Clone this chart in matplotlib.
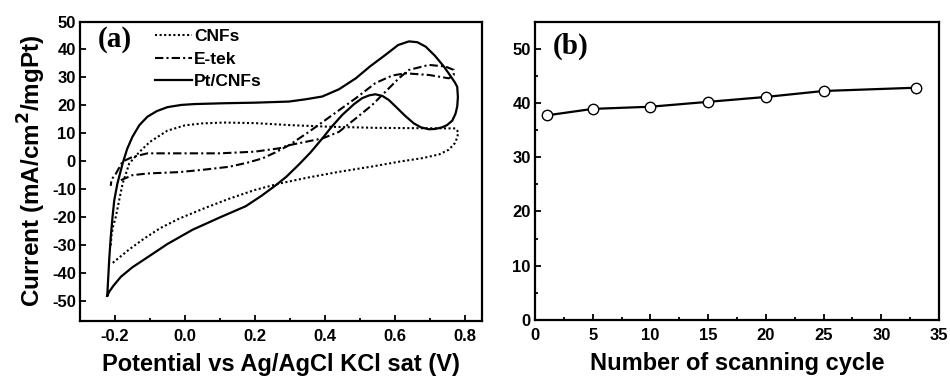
import matplotlib
matplotlib.use("Agg")
import matplotlib.pyplot as plt
from matplotlib.ticker import MultipleLocator

plt.rcParams['font.family'] = ['Liberation Sans', 'DejaVu Sans']
plt.rcParams['font.weight'] = 'bold'
plt.rcParams['mathtext.default'] = 'bf'

# (a) cyclic voltammograms, potential (V) vs current (mA/cm2/mgPt)
pt_v = [-0.222, -0.219, -0.216, -0.212, -0.207, -0.202, -0.193, -0.178, -0.165, -0.15,
        -0.13, -0.107, -0.08, -0.05, -0.01, 0.027, 0.112, 0.2, 0.298, 0.345,
        0.393, 0.441, 0.489, 0.53, 0.574, 0.61, 0.641, 0.665, 0.689, 0.715,
        0.741, 0.76, 0.772, 0.779, 0.781, 0.779, 0.774, 0.765, 0.75, 0.736,
        0.715, 0.698, 0.675, 0.655, 0.63, 0.603, 0.583, 0.565, 0.545, 0.527,
        0.507, 0.484, 0.45, 0.42, 0.393, 0.36, 0.327, 0.29, 0.26, 0.22,
        0.174, 0.1, 0.022, -0.05, -0.116, -0.15, -0.183, -0.205, -0.216, -0.222]
pt_i = [-48.0, -41.0, -34.2, -27.0, -19.9, -13.9, -7.9, -0.7, 4.5, 8.8,
        13.0, 16.0, 18.0, 19.4, 20.2, 20.5, 20.8, 21.0, 21.4, 22.2,
        23.2, 25.8, 29.7, 34.0, 38.1, 41.6, 42.9, 42.6, 41.0, 37.8,
        33.9, 30.5, 28.3, 26.7, 23.0, 19.6, 17.0, 14.6, 13.0, 12.2,
        11.6, 11.5, 12.2, 13.6, 16.3, 19.6, 22.0, 23.4, 24.0, 23.6,
        22.6, 20.5, 16.6, 12.4, 8.2, 3.3, -1.0, -5.5, -8.5, -12.2,
        -16.0, -20.0, -24.4, -29.5, -35.0, -37.8, -41.2, -44.5, -46.5, -48.0]

cnf_v = [-0.212, -0.21, -0.205, -0.198, -0.188, -0.178, -0.159, -0.13, -0.1, -0.05,
         0.0, 0.05, 0.112, 0.2, 0.298, 0.413, 0.55, 0.65, 0.774, 0.782,
         0.779, 0.772, 0.755, 0.727, 0.68, 0.612, 0.536, 0.441, 0.35, 0.27,
         0.2, 0.127, 0.06, -0.016, -0.07, -0.116, -0.16, -0.207]
cnf_i = [-30.0, -26.5, -23.0, -20.0, -13.9, -7.9, -0.7, 3.4, 7.0, 11.0,
         12.9, 13.6, 13.9, 13.7, 13.0, 12.4, 12.0, 11.9, 11.8, 10.5,
         8.5, 6.5, 4.2, 2.5, 1.2, -0.1, -1.8, -3.7, -5.8, -7.9,
         -10.2, -13.3, -16.5, -20.4, -23.8, -27.5, -31.5, -36.3]

et_v = [-0.183, -0.15, -0.107, -0.016, 0.05, 0.127, 0.18, 0.222, 0.26, 0.298,
        0.355, 0.422, 0.489, 0.545, 0.593, 0.631, 0.698, 0.755, 0.769, 0.769,
        0.746, 0.698, 0.641, 0.612, 0.584, 0.536, 0.489, 0.441, 0.393, 0.345,
        0.298, 0.27, 0.2, 0.1, -0.016, -0.107, -0.15, -0.178, -0.197, -0.21, -0.212]
et_i = [-6.7, -4.9, -4.3, -3.8, -3.0, -1.9, -0.4, 1.1, 3.3, 5.8,
        10.6, 16.6, 22.6, 28.0, 30.7, 31.5, 30.9, 29.7, 30.9, 32.7,
        33.9, 34.5, 32.7, 29.7, 26.2, 20.2, 15.4, 10.6, 8.2, 7.0,
        5.8, 4.7, 3.5, 2.9, 2.9, 2.9, 1.6, 0.0, -4.3, -6.5, -8.7]

# (b) peak current vs number of cycles
cycles = [1, 5, 10, 15, 20, 25, 33]
peak = [37.7, 38.9, 39.3, 40.2, 41.1, 42.2, 42.8]

fig = plt.figure(figsize=(9.5, 3.76), dpi=100)
ax1 = fig.add_axes([0.0842, 0.1463, 0.4232, 0.7965])
ax2 = fig.add_axes([0.5632, 0.1489, 0.4253, 0.7939])

ax1.plot(cnf_v, cnf_i, color='black', lw=1.5, linestyle=(0, (1, 1.2)), label='CNFs')
ax1.plot(et_v, et_i, color='black', lw=1.5, linestyle=(0, (4, 1.5, 1, 1.5)), label='E-tek')
ax1.plot(pt_v, pt_i, color='black', lw=1.6, label='Pt/CNFs')

ax1.set_xlim(-0.3, 0.85)
ax1.set_ylim(-57, 50)
ax1.xaxis.set_minor_locator(MultipleLocator(0.1))
ax1.set_xticks([-0.2, 0.0, 0.2, 0.4, 0.6, 0.8])
ax1.set_xticklabels(['-0.2', '0.0', '0.2', '0.4', '0.6', '0.8'])
ax1.set_yticks(range(-50, 51, 10))
ax1.set_yticklabels([str(v) for v in range(-50, 51, 10)])
ax1.set_xlabel('Potential vs Ag/AgCl KCl sat (V)', fontsize=17, fontweight='bold', labelpad=6)
ax1.set_ylabel('Current (mA/cm$^2$/mgPt)', fontsize=17.5, fontweight='bold', labelpad=3)
ax1.text(0.045, 0.94, '(a)', transform=ax1.transAxes, fontsize=21, fontweight='bold',
         family=['Liberation Serif', 'DejaVu Serif'], va='center', ha='left')
leg = ax1.legend(loc='upper left', bbox_to_anchor=(0.187, 0.975), frameon=False,
                 fontsize=12.5, handlelength=2.1, handletextpad=0.15, labelspacing=0.42,
                 borderpad=0, borderaxespad=0)
for t in leg.get_texts():
    t.set_fontweight('bold')

ax2.plot(cycles, peak, color='black', lw=1.6, marker='o', ms=7.5,
         markerfacecolor='white', markeredgecolor='black', markeredgewidth=1.0)
ax2.set_xlim(0, 35)
ax2.set_ylim(0, 55)
ax2.xaxis.set_major_locator(MultipleLocator(5))
ax2.xaxis.set_minor_locator(MultipleLocator(2.5))
ax2.yaxis.set_major_locator(MultipleLocator(10))
ax2.yaxis.set_minor_locator(MultipleLocator(5))
ax2.set_xlabel('Number of scanning cycle', fontsize=17, fontweight='bold', labelpad=6)
ax2.text(0.045, 0.918, '(b)', transform=ax2.transAxes, fontsize=21, fontweight='bold',
         family=['Liberation Serif', 'DejaVu Serif'], va='center', ha='left')

for ax in (ax1, ax2):
    for s in ax.spines.values():
        s.set_linewidth(1.6)
    ax.tick_params(which='both', direction='in', top=False, right=False,
                   width=1.3, labelsize=12)
    ax.tick_params(axis='x', pad=6)
    ax.tick_params(axis='y', pad=3)
    ax.tick_params(which='major', length=4.5)
    ax.tick_params(which='minor', length=2.5)
    for lab in ax.get_xticklabels() + ax.get_yticklabels():
        lab.set_fontweight('bold')

fig.savefig('out.png', dpi=100)
